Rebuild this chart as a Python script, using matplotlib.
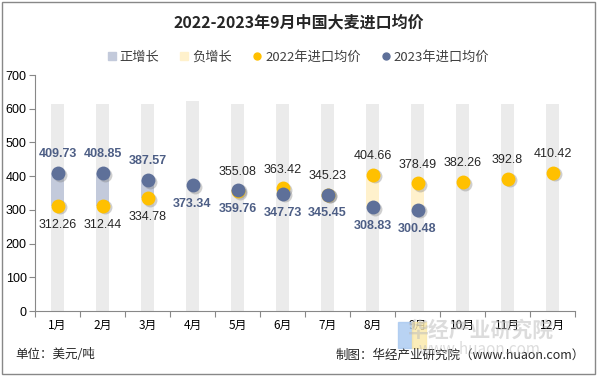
import numpy as np
import matplotlib.pyplot as plt
import matplotlib.patches as mpatches

plt.rcParams['font.family'] = ['Noto Sans CJK SC', 'DejaVu Sans']

months = ['1月', '2月', '3月', '4月', '5月', '6月', '7月', '8月', '9月', '10月', '11月', '12月']
price_2022 = [312.26, 312.44, 334.78, np.nan, 355.08, 363.42, 345.23, 404.66, 378.49, 382.26, 392.8, 410.42]
price_2023 = [409.73, 408.85, 387.57, 373.34, 359.76, 347.73, 345.45, 308.83, 300.48, np.nan, np.nan, np.nan]
backdrop = [615, 615, 615, 623, 615, 615, 615, 615, 615, 615, 615, 615]

c22 = '#FFC000'
c23 = '#5E7099'
c_up = '#C3CADB'
c_down = '#FFF1CC'

fig = plt.figure(figsize=(5.97, 3.76), dpi=100)
ax = fig.add_axes([35 / 597, 1 - 311 / 376, 540 / 597, 236 / 376])

x = np.arange(len(months))
p22 = np.array(price_2022)
p23 = np.array(price_2023)

ax.bar(x, backdrop, width=0.29, color='#EBEBEB', zorder=1)

# growth bars between the two years
for i in x:
    if np.isnan(p22[i]) or np.isnan(p23[i]):
        continue
    lo, hi = min(p22[i], p23[i]), max(p22[i], p23[i])
    col = c_up if p23[i] > p22[i] else c_down
    ax.bar(i, hi - lo, bottom=lo, width=0.29, color=col, zorder=2)

# dots with a soft shadow
ms = 100
ax.scatter(x + 0.05, p22 - 5, s=ms, color='#777777', alpha=0.35, lw=0, zorder=3)
ax.scatter(x + 0.05, p23 - 5, s=ms, color='#777777', alpha=0.35, lw=0, zorder=3)
ax.scatter(x, p22, s=ms, color=c22, lw=0, zorder=4)
ax.scatter(x, p23, s=ms, color=c23, lw=0, zorder=5)

for i in x:
    up23 = (not np.isnan(p22[i])) and (not np.isnan(p23[i])) and p23[i] - p22[i] > 20
    if not np.isnan(p22[i]):
        dy = -56 if up23 else 56
        ax.text(i, p22[i] + dy, f'{p22[i]:g}', ha='center', va='center',
                fontsize=9, color='#262626', family='Liberation Sans', zorder=6)
    if not np.isnan(p23[i]):
        dy = 56 if up23 else -56
        ax.text(i, p23[i] + dy, f'{p23[i]:g}', ha='center', va='center',
                fontsize=9, color='#4D5E85', fontweight='bold', family='Liberation Sans', zorder=6)

ax.set_xlim(-0.5, 11.5)
ax.set_ylim(0, 700)
ax.set_yticks(range(0, 701, 100))
ax.set_yticklabels([str(v) for v in range(0, 701, 100)], family='Liberation Sans')
ax.set_xticks(np.arange(-0.5, 12, 1))
ax.set_xticklabels([])
ax.set_xticks(x, minor=True)
ax.set_xticklabels(months, minor=True, fontsize=8.5)
ax.tick_params(axis='x', which='minor', length=0, pad=6)
ax.tick_params(axis='x', which='major', length=4, color='#888888')
ax.tick_params(axis='y', length=4, color='#888888', labelsize=9, pad=2)
for s in ['top', 'right']:
    ax.spines[s].set_visible(False)
ax.spines['left'].set_color('#888888')
ax.spines['bottom'].set_color('#888888')

fig.text(0.5, 1 - 22 / 376, '2022-2023年9月中国大麦进口均价', ha='center', va='center',
         fontsize=11.5, fontweight='bold', color='#262626')

handles = [
    mpatches.Patch(color=c_up, label='正增长'),
    mpatches.Patch(color=c_down, label='负增长'),
    plt.Line2D([], [], marker='o', ls='', color=c22, markersize=5, label='2022年进口均价'),
    plt.Line2D([], [], marker='o', ls='', color=c23, markersize=5, label='2023年进口均价'),
]
fig.legend(handles=handles, loc='center', bbox_to_anchor=(0.5, 1 - 57 / 376), ncol=4,
           frameon=False, fontsize=9.5, handlelength=0.6, handleheight=0.6,
           handletextpad=0.3, columnspacing=1.6, labelcolor='#404040')

fig.text(15 / 597, 1 - 355 / 376, '单位：美元/吨', ha='left', va='center', fontsize=9, color='#262626')
fig.text(585 / 597, 1 - 355 / 376, '制图：华经产业研究院（www.huaon.com）', ha='right', va='center',
         fontsize=9, color='#262626')

# watermark
fig.text(480 / 597, 1 - 330 / 376, '华经产业研究院', ha='center', va='center', fontsize=15,
         fontweight='bold', color='#BBBBBB', alpha=0.5)
fig.text(480 / 597, 1 - 350 / 376, 'www.huaon.com', ha='center', va='center', fontsize=11,
         color='#BBBBBB', alpha=0.5)
fig.patches.append(mpatches.Rectangle((398 / 597, 1 - 348 / 376), 14 / 597, 26 / 376,
                                      transform=fig.transFigure, color='#A8C8F0', alpha=0.8))
fig.patches.append(mpatches.Rectangle((412 / 597, 1 - 348 / 376), 14 / 597, 26 / 376,
                                      transform=fig.transFigure, color='#FBE9A8', alpha=0.8))

fig.patches.append(mpatches.Rectangle((0.003, 0.004), 0.993, 0.992, transform=fig.transFigure,
                                      fill=False, ec='#888888', lw=1))

fig.savefig('out.png', dpi=100)
